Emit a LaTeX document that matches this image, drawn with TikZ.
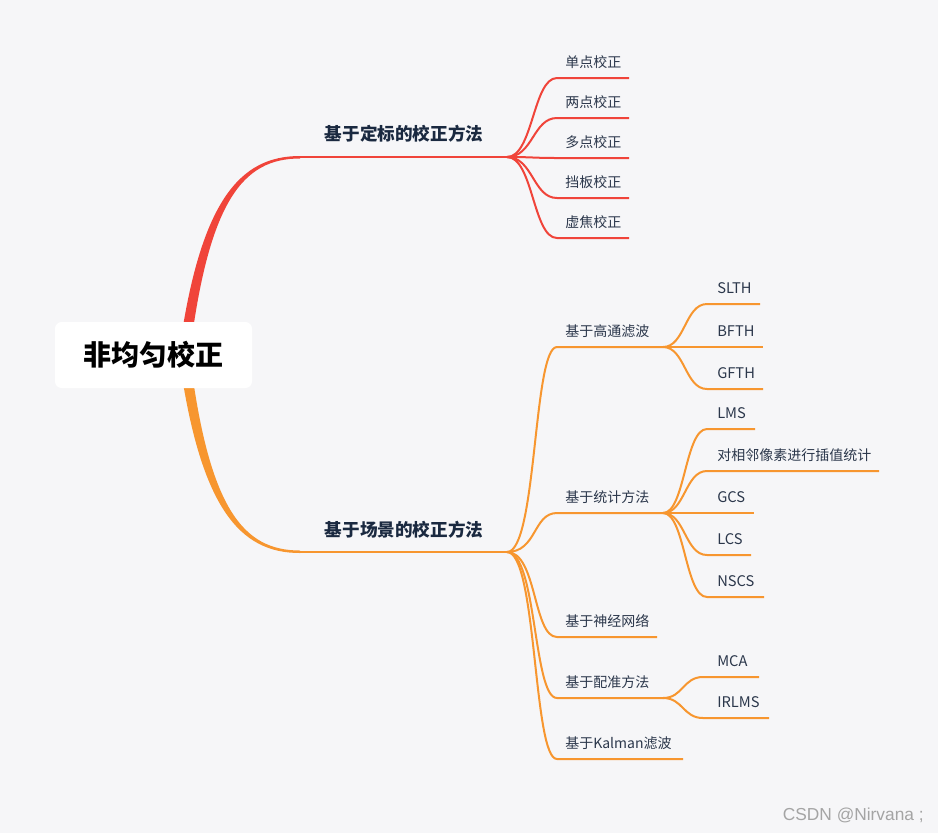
\documentclass[tikz,border=0pt]{standalone}
\usepackage{fontspec}
\newfontfamily\cjk{Noto Sans CJK SC}
\newfontfamily\wmfont{Liberation Sans}
\definecolor{bgc}{HTML}{F6F6F8}
\definecolor{cred}{HTML}{F0443A}
\definecolor{corg}{HTML}{F7962F}
\definecolor{ctext}{HTML}{2B374B}
\definecolor{cbranch}{HTML}{1A2940}
\definecolor{cwm}{HTML}{A4A4A4}
\begin{document}
\begin{tikzpicture}[x=0.75pt,y=-0.75pt,
  redl/.style={draw=cred,line width=1.5pt},
  orgl/.style={draw=corg,line width=1.5pt},
  leaftext/.style={anchor=west,inner sep=0pt,text=ctext,font=\cjk\fontsize{10.5}{12}\selectfont},
  latintext/.style={leaftext,font=\cjk\fontsize{11}{12}\selectfont},
  branchtext/.style={inner sep=0pt,text=cbranch,font=\cjk\bfseries\fontsize{13.2}{15}\selectfont},
  rootbox/.style={fill=white,rounded corners=5pt,minimum width=147.75pt,minimum height=49.5pt,inner sep=0pt,text=black,font=\cjk\bfseries\fontsize{21}{24}\selectfont},
  fan/.style={to path={.. controls +(26,0) and +(-24,0) .. (\tikztotarget)}}
]
\fill[bgc] (0,0) rectangle (938,833);
\useasboundingbox (0,0) rectangle (938,833);

% main tapered branches
\fill[cred] (178,360) .. controls (199,200) and (240,156) .. (300,156) -- (300,158.5) .. controls (243,158.5) and (208,200) .. (189,360) -- cycle;
\fill[corg] (178,349) .. controls (199,509) and (240,553) .. (300,553) -- (300,550.5) .. controls (243,550.5) and (208,509) .. (189,349) -- cycle;

\node[rootbox] (root) at (153.5,355) {非均匀校正};

% ---------- branch 1 ----------
\coordinate (b1s) at (300,157);
\coordinate (b1f) at (507,157);
\draw[redl] (b1s) -- (b1f);
\node[branchtext] (b1) at (404,134) {基于定标的校正方法};

\foreach \n/\y/\t in {a1/78/单点校正,a2/118/两点校正,a3/158/多点校正,a4/198/挡板校正,a5/238/虚焦校正}{
  \coordinate (\n s) at (557,\y);
  \coordinate (\n e) at (629,\y);
  \draw[redl] (b1f) to[fan] (\n s) -- (\n e);
  \node[leaftext] (\n) at (565,\y-16) {\t};
}

% ---------- branch 2 ----------
\coordinate (b2s) at (300,552);
\coordinate (b2f) at (507,552);
\draw[orgl] (b2s) -- (b2f);
\node[branchtext] (b2) at (404,530) {基于场景的校正方法};

\foreach \n/\y/\x/\t in {c1/347/663/基于高通滤波,c2/513/663/基于统计方法,c3/637/657/基于神经网络,c4/698/663/基于配准方法,c5/759/683/基于Kalman滤波}{
  \coordinate (\n s) at (557,\y);
  \coordinate (\n e) at (\x,\y);
  \draw[orgl] (b2f) .. controls +(30,0) and +(-24,0) .. (\n s) -- (\n e);
  \node[leaftext] (\n) at (565,\y-16) {\t};
}

% sub-branches of c1
\foreach \n/\y/\x/\t in {d1/304/760/SLTH,d2/347/763/BFTH,d3/389/763/GFTH}{
  \coordinate (\n s) at (707,\y);
  \coordinate (\n e) at (\x,\y);
  \draw[orgl] (c1e) .. controls +(22,0) and +(-22,0) .. (\n s) -- (\n e);
  \node[latintext] (\n) at (717,\y-16) {\t};
}

% sub-branches of c2
\foreach \n/\y/\x/\t in {e1/429/755/LMS,e3/513/754/GCS,e4/555/751/LCS,e5/597/764/NSCS}{
  \coordinate (\n s) at (707,\y);
  \coordinate (\n e) at (\x,\y);
  \draw[orgl] (c2e) .. controls +(22,0) and +(-22,0) .. (\n s) -- (\n e);
  \node[latintext] (\n) at (717,\y-16) {\t};
}
\coordinate (e2s) at (707,471);
\coordinate (e2e) at (879,471);
\draw[orgl] (c2e) .. controls +(22,0) and +(-22,0) .. (e2s) -- (e2e);
\node[leaftext] (e2) at (717,455) {对相邻像素进行插值统计};

% sub-branches of c4
\foreach \n/\y/\x/\t in {f1/677/759/MCA,f2/718/769/IRLMS}{
  \coordinate (\n s) at (703,\y);
  \coordinate (\n e) at (\x,\y);
  \draw[orgl] (c4e) .. controls +(20,0) and +(-20,0) .. (\n s) -- (\n e);
  \node[latintext] (\n) at (717,\y-16) {\t};
}

\node[anchor=east,inner sep=0pt,text=cwm,font=\wmfont\fontsize{13}{15}\selectfont] (wm) at (924,815) {CSDN @Nirvana ;};
\end{tikzpicture}
\end{document}
